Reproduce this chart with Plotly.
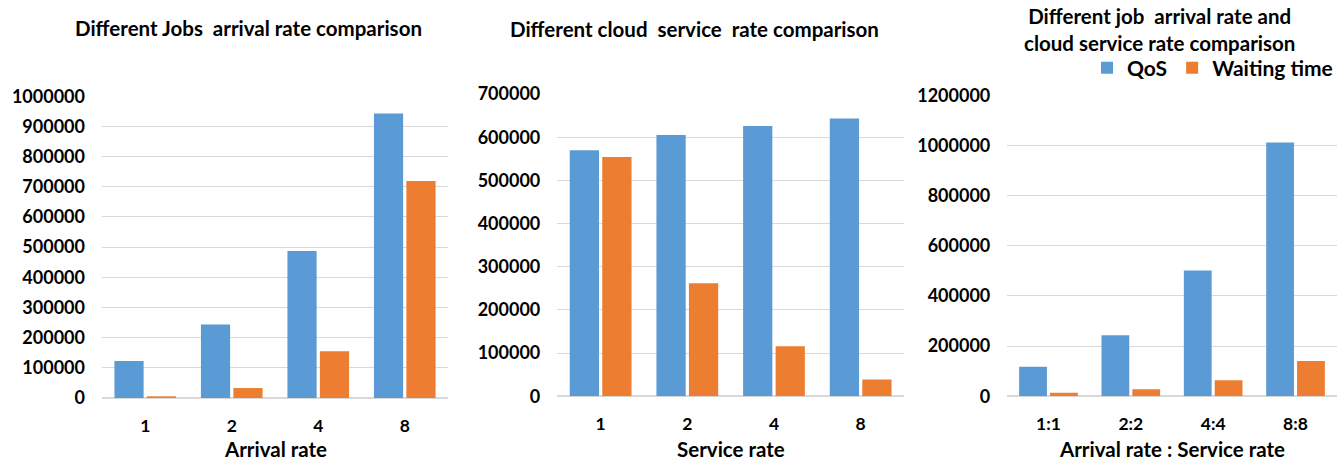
import plotly.graph_objects as go

W, H = 1343, 462

# ---- data ----
arrival_cats = ["1", "2", "4", "8"]
arrival_qos = [123000, 244000, 487000, 943000]
arrival_wait = [4500, 33000, 155000, 719000]

service_cats = ["1", "2", "4", "8"]
service_qos = [570000, 605000, 626000, 643000]
service_wait = [554000, 262000, 116000, 39000]

ratio_cats = ["1:1", "2:2", "4:4", "8:8"]
ratio_qos = [118000, 243000, 502000, 1012000]
ratio_wait = [14500, 28000, 64000, 141000]

titles = ["Different Jobs  arrival rate comparison",
          "Different cloud  service  rate comparison",
          "Different job  arrival rate and<br>cloud service rate comparison"]
xtitles = ["Arrival rate", "Service rate", "Arrival rate : Service rate"]
series_names = ["QoS", "Waiting time"]

BLUE = "#5B9BD5"
ORANGE = "#ED7D31"
FONT = "Lato"

def px_x(p):
    return p / W

def px_y(p):
    return 1 - p / H

# panel geometry (pixels)
panels = [
    dict(x0=102, x1=448, top=96.3, bot=398.0, ymax=1000000, dtick=100000),
    dict(x0=557.3, x1=904, top=94.0, bot=396.3, ymax=700000, dtick=100000),
    dict(x0=1007.3, x1=1336.7, top=95.3, bot=396.3, ymax=1200000, dtick=200000),
]
data_sets = [
    (arrival_cats, arrival_qos, arrival_wait),
    (service_cats, service_qos, service_wait),
    (ratio_cats, ratio_qos, ratio_wait),
]

fig = go.Figure()
for i, (cats, qos, wait) in enumerate(data_sets):
    xa = "x" if i == 0 else f"x{i+1}"
    ya = "y" if i == 0 else f"y{i+1}"
    show = (i == 2)
    fig.add_trace(go.Bar(x=cats, y=qos, name=series_names[0], marker_color=BLUE,
                         marker_line_width=0, xaxis=xa, yaxis=ya, showlegend=show,
                         legendgroup="q"))
    fig.add_trace(go.Bar(x=cats, y=wait, name=series_names[1], marker_color=ORANGE,
                         marker_line_width=0, xaxis=xa, yaxis=ya, showlegend=show,
                         legendgroup="w"))

layout = dict(
    template="none",
    width=W, height=H, autosize=False,
    margin=dict(l=0, r=0, t=0, b=0, pad=0, autoexpand=False),
    paper_bgcolor="white", plot_bgcolor="white",
    barmode="group", bargap=0.25, bargroupgap=0.1,
    font=dict(family=FONT, size=18, color="#000000", weight="bold"),
    showlegend=True,
    legend=dict(orientation="h", x=px_x(1338), xanchor="right", y=px_y(68), yanchor="middle",
                font=dict(family=FONT, size=21, weight="bold"), bgcolor="rgba(0,0,0,0)",
                traceorder="normal", tracegroupgap=0, itemwidth=30),
)

annotations = []
for i, p in enumerate(panels):
    sx = "" if i == 0 else str(i + 1)
    layout[f"xaxis{sx}"] = dict(
        domain=[px_x(p["x0"]), px_x(p["x1"])],
        anchor=f"y{sx}", type="category", automargin=False,
        showgrid=False, showline=False, zeroline=False,
        ticks="", ticklabelstandoff=15,
        tickfont=dict(family=FONT, size=17.5, weight="bold"),
    )
    layout[f"yaxis{sx}"] = dict(
        domain=[px_y(p["bot"]), px_y(p["top"])],
        anchor=f"x{sx}", range=[0, p["ymax"]], dtick=p["dtick"], automargin=False,
        showgrid=True, gridcolor="#D9D9D9", gridwidth=1.3,
        zeroline=True, zerolinecolor="#D9D9D9", zerolinewidth=1.5,
        showline=False, ticks="", ticklabelstandoff=16,
        tickformat="d",
        tickfont=dict(family=FONT, size=18, weight="bold"),
    )
    cx = (p["x0"] + p["x1"]) / 2
    annotations.append(dict(
        text=xtitles[i], x=px_x(cx), y=px_y(449), xref="paper", yref="paper",
        xanchor="center", yanchor="middle", showarrow=False,
        font=dict(family=FONT, size=20.5, weight="bold")))

annotations.append(dict(text=titles[0], x=px_x(248), y=px_y(28), xref="paper", yref="paper",
                        xanchor="center", yanchor="middle", showarrow=False,
                        font=dict(family=FONT, size=20.5, weight="bold")))
annotations.append(dict(text=titles[1], x=px_x(695), y=px_y(29), xref="paper", yref="paper",
                        xanchor="center", yanchor="middle", showarrow=False,
                        font=dict(family=FONT, size=20.5, weight="bold")))
annotations.append(dict(text=titles[2], x=px_x(1159), y=px_y(29), xref="paper", yref="paper",
                        xanchor="center", yanchor="middle", showarrow=False,
                        font=dict(family=FONT, size=20.5, weight="bold")))

layout["annotations"] = annotations
fig.update_layout(**layout)

fig.write_html("out.html")
